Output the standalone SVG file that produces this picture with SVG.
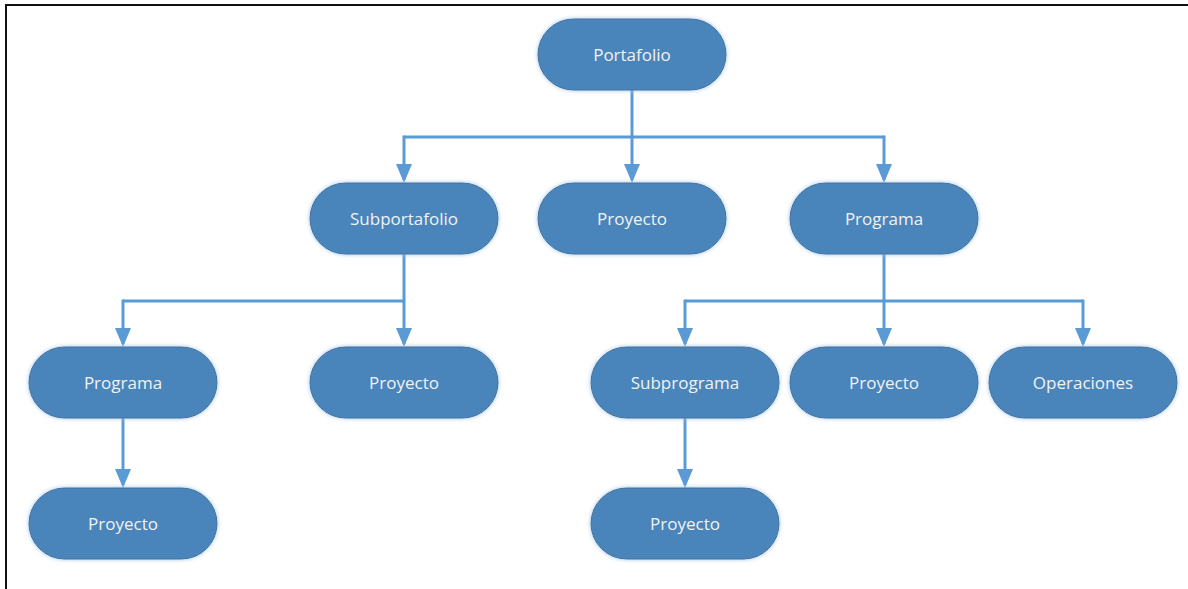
<svg xmlns="http://www.w3.org/2000/svg" width="1188" height="589" viewBox="0 0 1188 589">
<defs>
<style>
.node rect{fill:#4a85bb;stroke:#41719c;stroke-width:1;filter:url(#sh)}
.node text{fill:#f2f2f2;font-family:"Open Sans","Liberation Sans",sans-serif;font-size:17px;text-anchor:middle;dominant-baseline:central}
.conn path{fill:none;stroke:#5b9bd5;stroke-width:3}
</style>
<marker id="ah" markerUnits="userSpaceOnUse" markerWidth="20" markerHeight="16" refX="16" refY="8" orient="auto" viewBox="0 0 20 16">
<path d="M0,0 L19,8 L0,16 Z" fill="#5b9bd5"/>
</marker>
<filter id="sh" x="-10%" y="-20%" width="120%" height="150%">
<feGaussianBlur in="SourceAlpha" stdDeviation="2.5"/>
<feOffset dy="2"/>
<feComponentTransfer><feFuncA type="linear" slope="0.25"/></feComponentTransfer>
<feFlood flood-color="#9dc3e6"/>
<feComposite operator="in" in2="SourceAlpha"/>
<feGaussianBlur stdDeviation="2"/>
<feMerge><feMergeNode/><feMergeNode in="SourceGraphic"/></feMerge>
</filter>
</defs>
<rect x="0" y="0" width="1188" height="589" fill="#ffffff"/>
<path d="M6,589 V5 H1188" fill="none" stroke="#111" stroke-width="2"/>
<g class="conn" id="connectors">
<path d="M632,90 V180" marker-end="url(#ah)"/>
<path d="M404,137 H884"/>
<path d="M404,135.5 V180" marker-end="url(#ah)"/>
<path d="M884,135.5 V180" marker-end="url(#ah)"/>
<path d="M404,254 V344" marker-end="url(#ah)"/>
<path d="M123,301 H404"/>
<path d="M123,299.5 V344" marker-end="url(#ah)"/>
<path d="M884,254 V344" marker-end="url(#ah)"/>
<path d="M685,301 H1083"/>
<path d="M685,299.5 V344" marker-end="url(#ah)"/>
<path d="M1083,299.5 V344" marker-end="url(#ah)"/>
<path d="M123,418 V485" marker-end="url(#ah)"/>
<path d="M685,418 V485" marker-end="url(#ah)"/>
</g>
<g class="node" id="portafolio"><rect x="538" y="19" width="188" height="71" rx="35.5"/><text x="632" y="54">Portafolio</text></g>
<g class="node" id="subportafolio"><rect x="310" y="183" width="188" height="71" rx="35.5"/><text x="404" y="218">Subportafolio</text></g>
<g class="node" id="proyecto1"><rect x="538" y="183" width="188" height="71" rx="35.5"/><text x="632" y="218">Proyecto</text></g>
<g class="node" id="programa1"><rect x="790" y="183" width="188" height="71" rx="35.5"/><text x="884" y="218">Programa</text></g>
<g class="node" id="programa2"><rect x="29" y="347" width="188" height="71" rx="35.5"/><text x="123" y="382">Programa</text></g>
<g class="node" id="proyecto2"><rect x="310" y="347" width="188" height="71" rx="35.5"/><text x="404" y="382">Proyecto</text></g>
<g class="node" id="subprograma"><rect x="591" y="347" width="188" height="71" rx="35.5"/><text x="685" y="382">Subprograma</text></g>
<g class="node" id="proyecto3"><rect x="790" y="347" width="188" height="71" rx="35.5"/><text x="884" y="382">Proyecto</text></g>
<g class="node" id="operaciones"><rect x="989" y="347" width="188" height="71" rx="35.5"/><text x="1083" y="382">Operaciones</text></g>
<g class="node" id="proyecto4"><rect x="29" y="488" width="188" height="71" rx="35.5"/><text x="123" y="523">Proyecto</text></g>
<g class="node" id="proyecto5"><rect x="591" y="488" width="188" height="71" rx="35.5"/><text x="685" y="523">Proyecto</text></g>
</svg>
